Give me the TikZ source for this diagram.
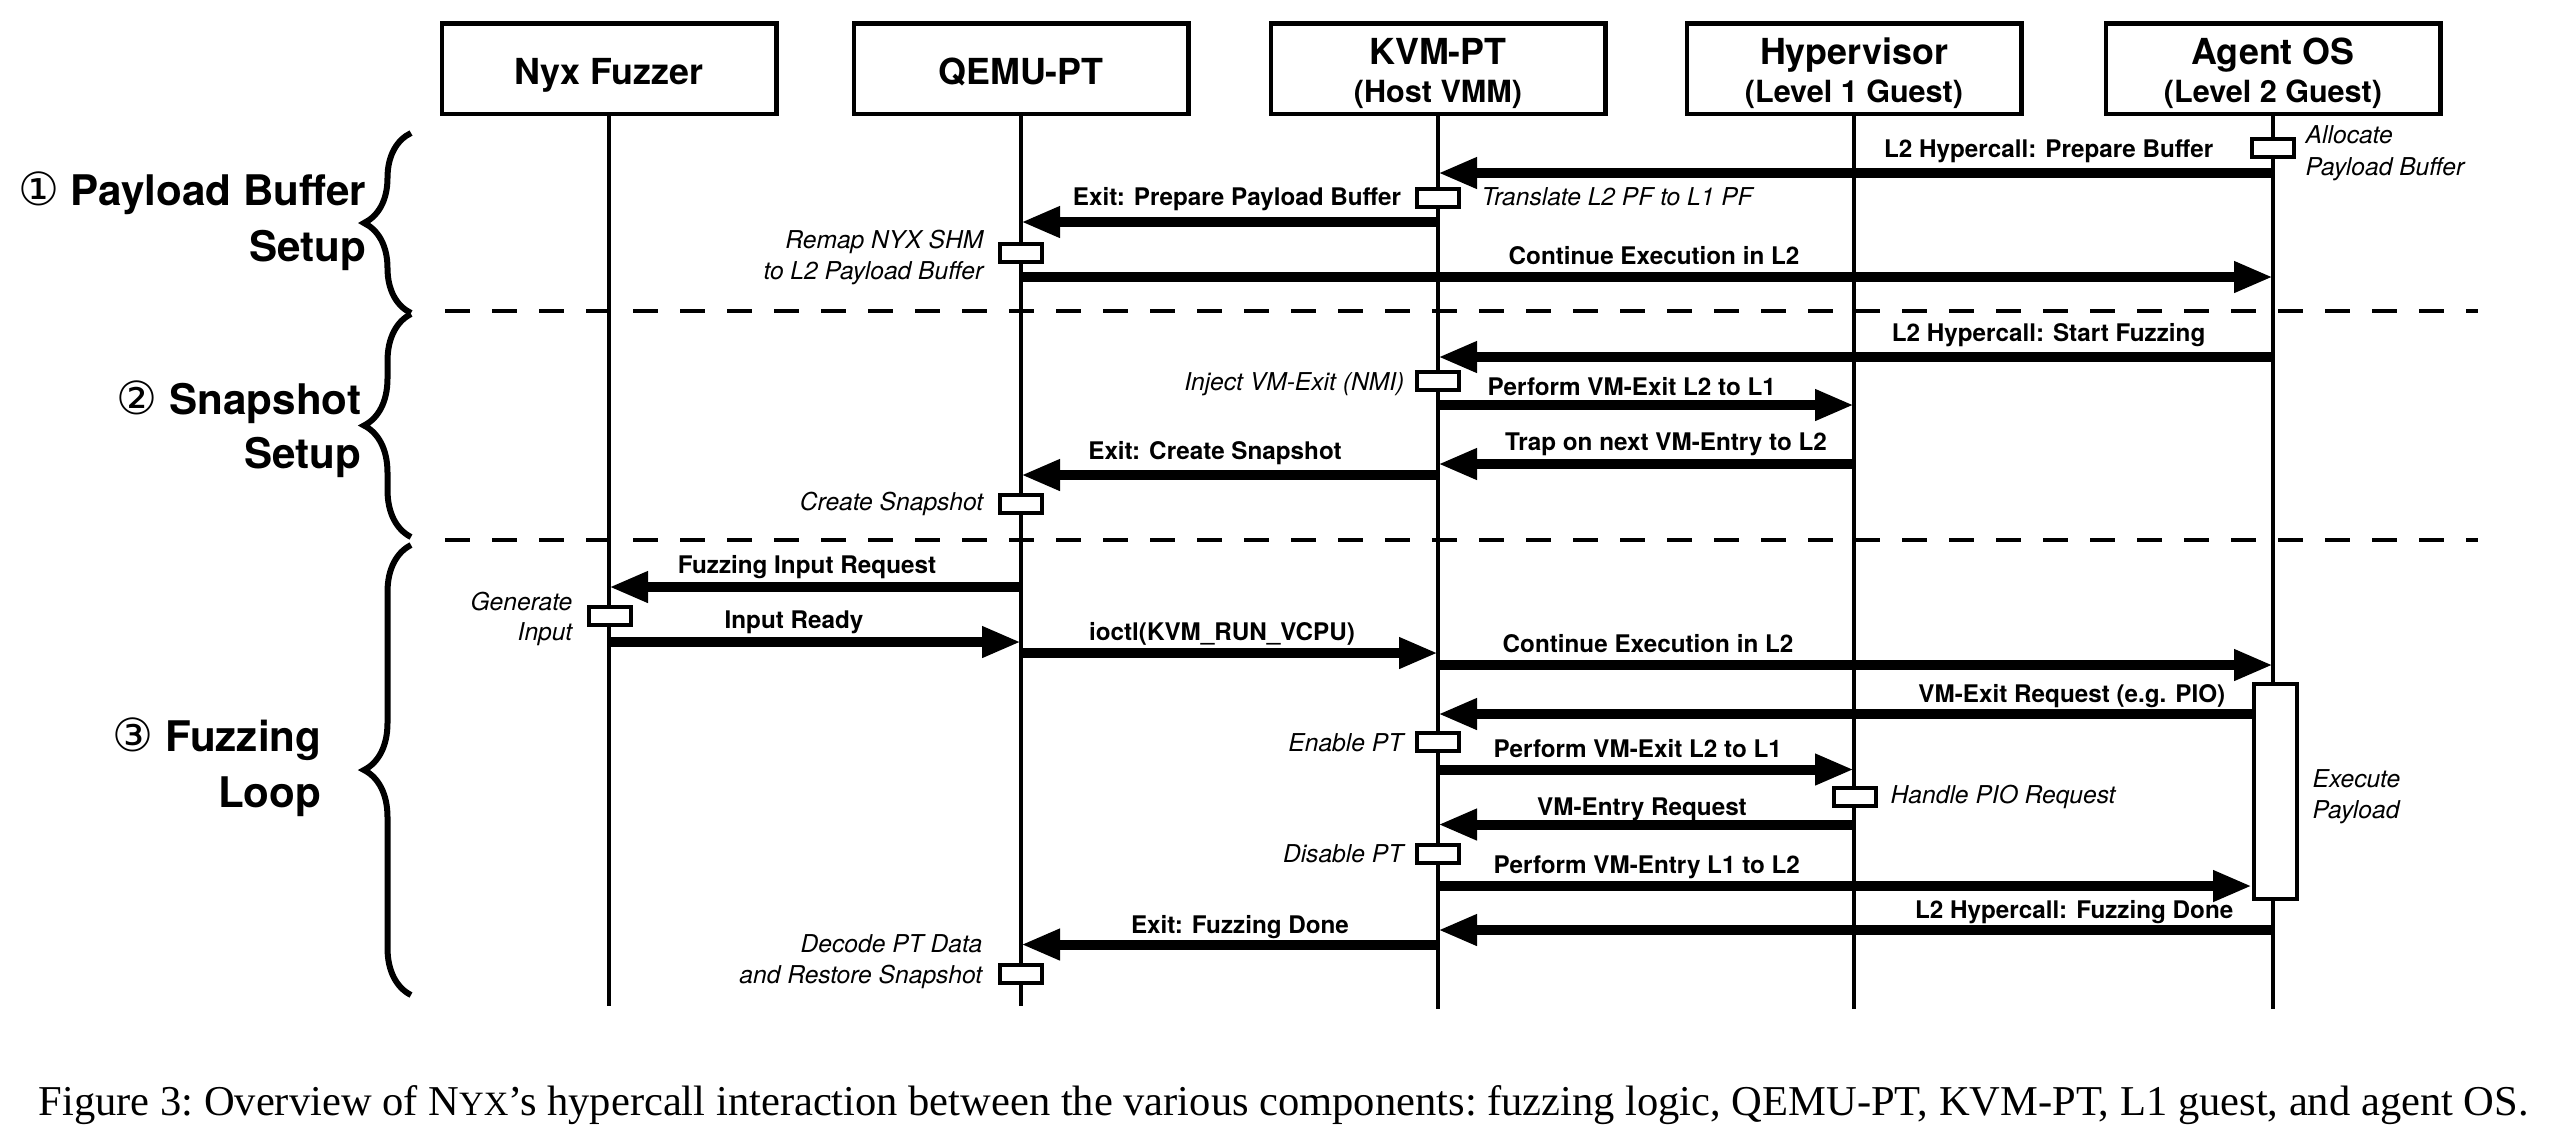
\documentclass[tikz,border=0pt]{standalone}
\usepackage{fontspec}
\setmainfont{TeX Gyre Heros}
\newfontfamily\circfont{DejaVu Sans}
\newfontfamily\capfont{Liberation Serif}
\usetikzlibrary{arrows.meta,decorations.pathreplacing}

\tikzset{
  hdr/.style={draw, line width=0.45mm, minimum width=33.45mm, minimum height=9.05mm, inner sep=0},
  hdrtitle/.style={font=\bfseries\fontsize{10.2}{12}\selectfont, inner sep=0, anchor=base},
  hdrsub/.style={font=\bfseries\fontsize{8.7}{10}\selectfont, inner sep=0, anchor=base},
  life/.style={line width=0.35mm},
  msg/.style={line width=1mm, -{Triangle[length=3.9mm,width=2.9mm]}},
  act/.style={draw, fill=white, line width=0.4mm, minimum width=4.2mm, minimum height=1.8mm, inner sep=0},
  lbl/.style={font=\bfseries\fontsize{6.9}{8}\selectfont, inner sep=0},
  note/.style={font=\itshape\fontsize{7}{8}\selectfont, inner sep=0},
  phase/.style={font=\bfseries\fontsize{12}{14}\selectfont, inner sep=0, anchor=base east},
  sep/.style={line width=0.4mm, dash pattern=on 2.5mm off 2.2mm},
  brc/.style={decorate, decoration={brace, amplitude=4.7mm}, line width=0.6mm},
}
\newcommand{\phasenum}[1]{{\circfont\mdseries\fontsize{13}{14}\selectfont #1}}

\begin{document}
\begin{tikzpicture}[x=0.1mm, y=-0.1mm]
	\useasboundingbox (0,0) rectangle (2553,1135);

	% participants
	\node[hdr] (nyx) at (609,68.5) {};
	\node[hdr] (qemu) at (1021,68.5) {};
	\node[hdr] (kvm) at (1438,68.5) {};
	\node[hdr] (hyp) at (1854,68.5) {};
	\node[hdr] (agent) at (2273,68.5) {};
	\node[hdrtitle] (nyxT) at (609,84) {Nyx Fuzzer};
	\node[hdrtitle] (qemuT) at (1021,84) {QEMU-PT};
	\node[hdrtitle] (kvmT) at (1438,64) {KVM-PT};
	\node[hdrsub] (kvmS) at (1438,102) {(Host VMM)};
	\node[hdrtitle] (hypT) at (1854,64) {Hypervisor};
	\node[hdrsub] (hypS) at (1854,102) {(Level 1 Guest)};
	\node[hdrtitle] (agentT) at (2273,64) {Agent OS};
	\node[hdrsub] (agentS) at (2273,102) {(Level 2 Guest)};

	% lifelines
	\draw[life] (nyx.south) -- (nyx |- 0,1006);
	\draw[life] (qemu.south) -- (qemu |- 0,1006);
	\draw[life] (kvm.south) -- (kvm |- 0,1009);
	\draw[life] (hyp.south) -- (hyp |- 0,1009);
	\draw[life] (agent.south) -- (agent |- 0,1009);

	% phases
	\draw[sep] (445,311) -- (2478,311);
	\draw[sep] (445,540) -- (2478,540);
	\draw[brc] (411,313) -- (411,133);
	\draw[brc] (411,537) -- (411,314);
	\draw[brc] (411,995) -- (411,545);
	\node[phase] (ph1a) at (367,205) {\phasenum{①} Payload Buffer};
	\node[phase] (ph1b) at (367,261) {Setup};
	\node[phase] (ph2a) at (362,414) {\phasenum{②} Snapshot};
	\node[phase] (ph2b) at (362,468) {Setup};
	\node[phase] (ph3a) at (322,751) {\phasenum{③} Fuzzing};
	\node[phase] (ph3b) at (322,807) {Loop};

	% execution boxes
	\node[act] (alloc) at (2273,148) {};
	\node[act] (transl) at (1438,197.5) {};
	\node[act] (remap) at (1021,253) {};
	\node[act] (inject) at (1438,381) {};
	\node[act] (snap) at (1021,503.5) {};
	\node[act] (gen) at (610,615.5) {};
	\node[act, minimum width=4.3mm, minimum height=21.5mm] (exec) at (2275.5,791.3) {};
	\node[act] (enable) at (1438,742) {};
	\node[act] (handle) at (1855,797) {};
	\node[act] (disable) at (1438,854) {};
	\node[act] (decode) at (1021,974) {};

	% payload buffer setup
	\draw[msg] (agent |- 0,173) -- (kvm |- 0,173);
	\node[lbl, anchor=base east] (m1) at (2214,157) {L2 Hypercall: Prepare Buffer};
	\draw[msg] (kvm |- 0,222) -- (qemu |- 0,222);
	\node[lbl, anchor=base] (m2) at (1237,205) {Exit: Prepare Payload Buffer};
	\draw[msg] (qemu |- 0,277) -- (agent |- 0,277);
	\node[lbl, anchor=base] (m3) at (1654,264) {Continue Execution in L2};

	% snapshot setup
	\draw[msg] (agent |- 0,357) -- (kvm |- 0,357);
	\node[lbl, anchor=base east] (m4) at (2206,341) {L2 Hypercall: Start Fuzzing};
	\draw[msg] (kvm |- 0,405) -- (hyp |- 0,405);
	\node[lbl, anchor=base west] (m5) at (1487,395) {Perform VM-Exit L2 to L1};
	\draw[msg] (hyp |- 0,464) -- (kvm |- 0,464);
	\node[lbl, anchor=base] (m6) at (1666,450) {Trap on next VM-Entry to L2};
	\draw[msg] (kvm |- 0,475) -- (qemu |- 0,475);
	\node[lbl, anchor=base] (m7) at (1215,459) {Exit: Create Snapshot};

	% fuzzing loop
	\draw[msg] (qemu |- 0,587) -- (nyx |- 0,587);
	\node[lbl, anchor=base] (m8) at (807,573) {Fuzzing Input Request};
	\draw[msg] (nyx |- 0,642) -- (qemu |- 0,642);
	\node[lbl, anchor=base] (m9) at (794,628) {Input Ready};
	\draw[msg] (qemu |- 0,653) -- (kvm |- 0,653);
	\node[lbl, anchor=base] (m10) at (1222,640) {ioctl(KVM\_RUN\_VCPU)};
	\draw[msg] (kvm |- 0,665) -- (agent |- 0,665);
	\node[lbl, anchor=base] (m11) at (1648,652) {Continue Execution in L2};
	\draw[msg] (exec.west |- 0,714) -- (kvm |- 0,714);
	\node[lbl, anchor=base east] (m12) at (2226,702) {VM-Exit Request (e.g. PIO)};
	\draw[msg] (kvm |- 0,769.5) -- (hyp |- 0,769.5);
	\node[lbl, anchor=base west] (m13) at (1493,757) {Perform VM-Exit L2 to L1};
	\draw[msg] (hyp |- 0,824.5) -- (kvm |- 0,824.5);
	\node[lbl, anchor=base] (m14) at (1642,815) {VM-Entry Request};
	\draw[msg] (kvm |- 0,886) -- (exec.west |- 0,886);
	\node[lbl, anchor=base west] (m15) at (1493,873) {Perform VM-Entry L1 to L2};
	\draw[msg] (agent |- 0,930) -- (kvm |- 0,930);
	\node[lbl, anchor=base east] (m16) at (2234,918) {L2 Hypercall: Fuzzing Done};
	\draw[msg] (kvm |- 0,944.5) -- (qemu |- 0,944.5);
	\node[lbl, anchor=base] (m17) at (1240,933) {Exit: Fuzzing Done};

	% notes
	\node[note, anchor=base west] (n1a) at (2305,143) {Allocate};
	\node[note, anchor=base west] (n1b) at (2305,175) {Payload Buffer};
	\node[note, anchor=base west] (n2) at (1481,205) {Translate L2 PF to L1 PF};
	\node[note, anchor=base east] (n3a) at (984,248) {Remap NYX SHM};
	\node[note, anchor=base east] (n3b) at (984,279) {to L2 Payload Buffer};
	\node[note, anchor=base east] (n4) at (1405,390) {Inject VM-Exit (NMI)};
	\node[note, anchor=base east] (n5) at (984,510) {Create Snapshot};
	\node[note, anchor=base east] (n6a) at (573,610) {Generate};
	\node[note, anchor=base east] (n6b) at (573,640) {Input};
	\node[note, anchor=base west] (n7a) at (2312,787) {Execute};
	\node[note, anchor=base west] (n7b) at (2312,818) {Payload};
	\node[note, anchor=base east] (n8) at (1404,751) {Enable PT};
	\node[note, anchor=base west] (n9) at (1890,803) {Handle PIO Request};
	\node[note, anchor=base east] (n10) at (1404,862) {Disable PT};
	\node[note, anchor=base east] (n11a) at (983,952) {Decode PT Data};
	\node[note, anchor=base east] (n11b) at (983,983) {and Restore Snapshot};

	% caption
	\node[inner sep=0, anchor=base west, font=\capfont\frenchspacing\fontsize{12.1}{14}\selectfont] (cap) at (38,1115)
		{Figure 3: Overview of N{\fontsize{9.7}{11}\selectfont YX}’s hypercall interaction between the various components: fuzzing logic, QEMU-PT, KVM-PT, L1 guest, and agent OS.};
\end{tikzpicture}
\end{document}
